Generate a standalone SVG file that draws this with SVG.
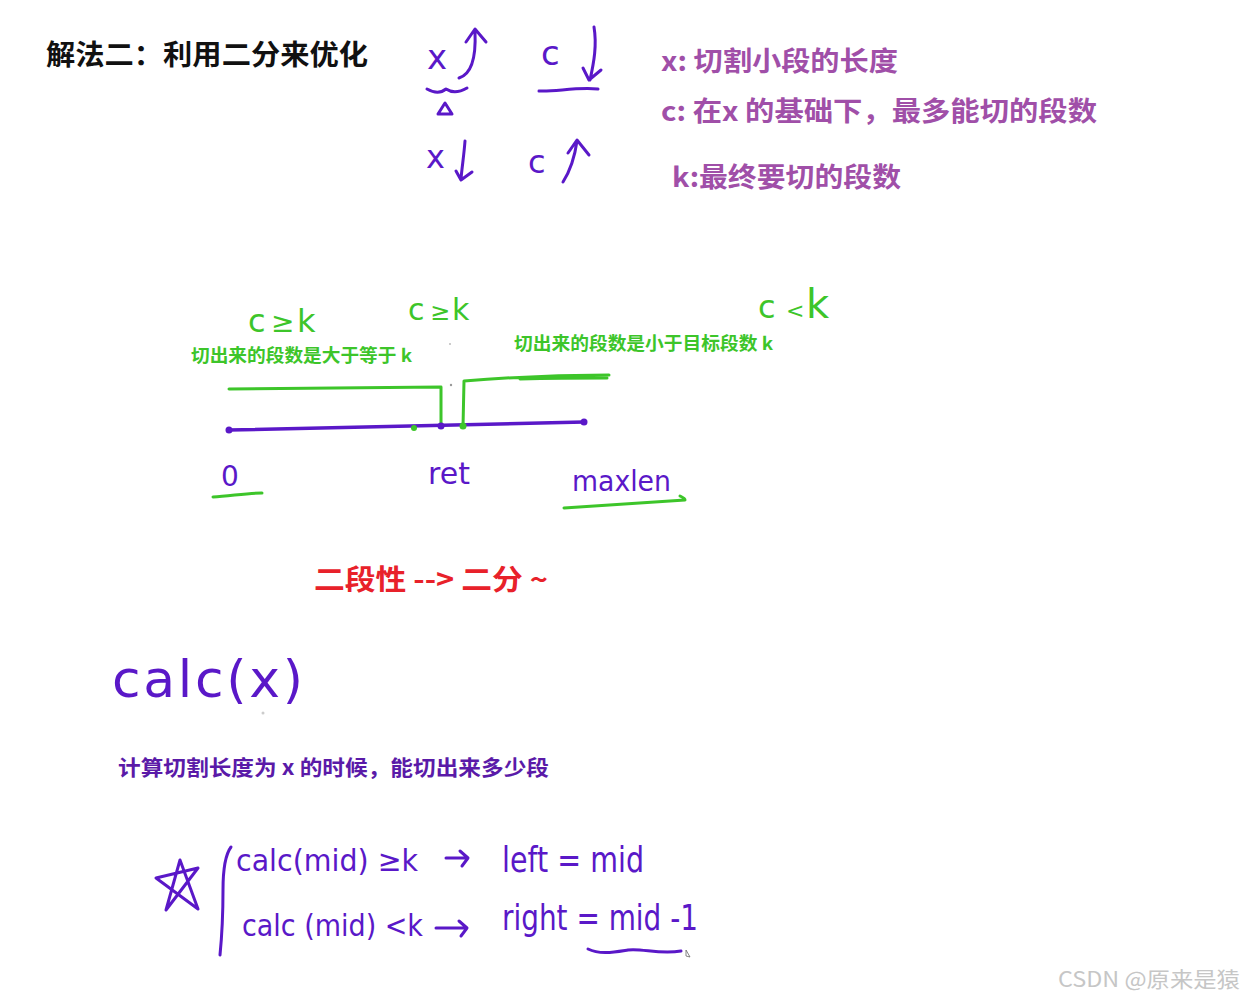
<svg xmlns="http://www.w3.org/2000/svg" width="1244" height="998" viewBox="0 0 1244 998">
<defs>
<style>
.ink{fill:none;stroke:#5a18c8;stroke-width:3;stroke-linecap:round;stroke-linejoin:round}
.gink{fill:none;stroke:#3dc52a;stroke-width:3;stroke-linecap:round;stroke-linejoin:round}
.hw{font-family:"DejaVu Sans","Liberation Sans",sans-serif;fill:#5a18c8}
.hg{font-family:"DejaVu Sans","Liberation Sans",sans-serif;fill:#3dc52a}
.cn{font-family:"Noto Sans CJK SC","Noto Sans",sans-serif;font-weight:bold}
</style>
</defs>
<rect width="1244" height="998" fill="#ffffff"/>

<g id="title">
<text class="cn" x="46" y="65" font-size="28" fill="#111" textLength="322" lengthAdjust="spacingAndGlyphs">解法二：利用二分来优化</text>
</g>

<g id="legend">
<text class="cn" x="661" y="71" font-size="27" fill="#a04fa8" textLength="237" lengthAdjust="spacingAndGlyphs">x: 切割小段的长度</text>
<text class="cn" x="661" y="121" font-size="27" fill="#a04fa8" textLength="436" lengthAdjust="spacingAndGlyphs">c: 在x 的基础下，最多能切的段数</text>
<text class="cn" x="672" y="187" font-size="27" fill="#a04fa8" textLength="229" lengthAdjust="spacingAndGlyphs">k:最终要切的段数</text>
</g>

<g id="monotonic">
<text class="hw" x="427" y="69" font-size="34">x</text>
<path class="ink" d="M459,78 C472,74 476,55 475,32 M466,42 L475,29 L486,42"/>
<path class="ink" d="M427,89 C434,93 440,94 446,89 C452,93 460,92 467,88"/>
<path class="ink" d="M438,114 L445,103 L452,114 Z"/>
<text class="hw" x="541" y="65" font-size="34">c</text>
<path class="ink" d="M594,27 C597,45 594,62 590,80 M583,68 L589,80 L601,70"/>
<path class="ink" d="M539,91 C555,92 575,87 598,89"/>
<text class="hw" x="426" y="168" font-size="32">x</text>
<path class="ink" d="M465,141 C464,155 462,167 461,179 M456,171 L461,180 L472,172"/>
<text class="hw" x="528" y="173" font-size="32">c</text>
<path class="ink" d="M563,182 C572,168 575,155 577,141 M568,153 L577,140 L589,155"/>
</g>

<g id="number-line">
<text class="hg" x="248" y="332" font-size="32">c</text>
<text class="hg" x="271" y="332" font-size="28">≥</text>
<text class="hg" x="297" y="332" font-size="32">k</text>
<text class="hg" x="408" y="320" font-size="30">c</text>
<text class="hg" x="430" y="320" font-size="24">≥</text>
<text class="hg" x="452" y="320" font-size="30">k</text>
<text class="hg" x="758" y="318" font-size="32">c</text>
<text class="hg" x="786" y="318" font-size="22">&lt;</text>
<text class="hg" x="806" y="318" font-size="40">k</text>
<text class="cn" x="191" y="362" font-size="18" fill="#3dc52a" textLength="221" lengthAdjust="spacingAndGlyphs">切出来的段数是大于等于 k</text>
<text class="cn" x="514" y="350" font-size="18" fill="#3dc52a" textLength="259" lengthAdjust="spacingAndGlyphs">切出来的段数是小于目标段数 k</text>
<path class="gink" d="M229,389 L441,387 L441,427"/>
<path class="gink" d="M463,427 L464,381 C500,378 560,375 609,375 M520,379 C560,378 590,378 607,378"/>
<path d="M229,430 L584,422" stroke="#5a18c8" stroke-width="3.5" fill="none" stroke-linecap="round"/>
<circle cx="229" cy="430" r="3.5" fill="#5a18c8"/>
<circle cx="584" cy="422" r="3.5" fill="#5a18c8"/>
<circle cx="414" cy="428" r="3" fill="#3dc52a"/>
<circle cx="441" cy="426" r="3.5" fill="#5a18c8"/>
<circle cx="463" cy="426" r="3.5" fill="#3dc52a"/>
<circle cx="450" cy="344" r="1" fill="#bbbbbb"/>
<circle cx="451" cy="385" r="1.2" fill="#999999"/>
<text class="hw" x="221" y="486" font-size="28">0</text>
<path class="gink" d="M213,497 C230,496 248,493 262,493"/>
<text class="hw" x="428" y="484" font-size="30">ret</text>
<text class="hw" x="572" y="491" font-size="28" textLength="99" lengthAdjust="spacingAndGlyphs">maxlen</text>
<path class="gink" d="M564,508 C600,506 640,503 685,500 C685,498 682,497 680,496"/>
</g>

<g id="conclusion">
<text class="cn" x="314" y="590" font-size="28" fill="#e8212a" textLength="234" lengthAdjust="spacingAndGlyphs">二段性 --&gt; 二分 ~</text>
</g>

<g id="calc">
<text class="hw" x="112" y="697" font-size="52" textLength="191" lengthAdjust="spacing">calc(x)</text>
<circle cx="263" cy="713" r="1.5" fill="#cccccc"/>
<text class="cn" x="118" y="775" font-size="21" fill="#5a1aa8" textLength="431" lengthAdjust="spacingAndGlyphs">计算切割长度为 x 的时候，能切出来多少段</text>
</g>

<g id="rules">
<path class="ink" d="M156,878 L198,868 L166,910 L180,860 L198,909 L156,878"/>
<path class="ink" d="M231,847 C225,855 223,870 223,890 C223,915 222,935 220,955"/>
<text class="hw" x="236" y="871" font-size="30" textLength="182" lengthAdjust="spacingAndGlyphs">calc(mid) ≥k</text>
<path class="ink" d="M446,858 L467,858 M460,851 L468,858 L462,866"/>
<text class="hw" x="502" y="872" font-size="36" textLength="142" lengthAdjust="spacingAndGlyphs">left = mid</text>
<text class="hw" x="242" y="936" font-size="30" textLength="181" lengthAdjust="spacingAndGlyphs">calc (mid) &lt;k</text>
<path class="ink" d="M436,928 L466,928 M459,921 L467,928 L461,936"/>
<text class="hw" x="502" y="930" font-size="36" textLength="196" lengthAdjust="spacingAndGlyphs">right = mid -1</text>
<path class="ink" d="M588,949 C600,955 615,952 628,950 C642,948 660,955 681,951"/>
<path d="M686,950 L690,957 L686,956 Z" fill="none" stroke="#666" stroke-width="0.8"/>
</g>

<g id="watermark">
<text x="1058" y="987" font-family="Noto Sans CJK SC, Noto Sans, sans-serif" font-size="21" fill="#c6c6c6" textLength="182" lengthAdjust="spacingAndGlyphs">CSDN @原来是猿</text>
</g>
</svg>
